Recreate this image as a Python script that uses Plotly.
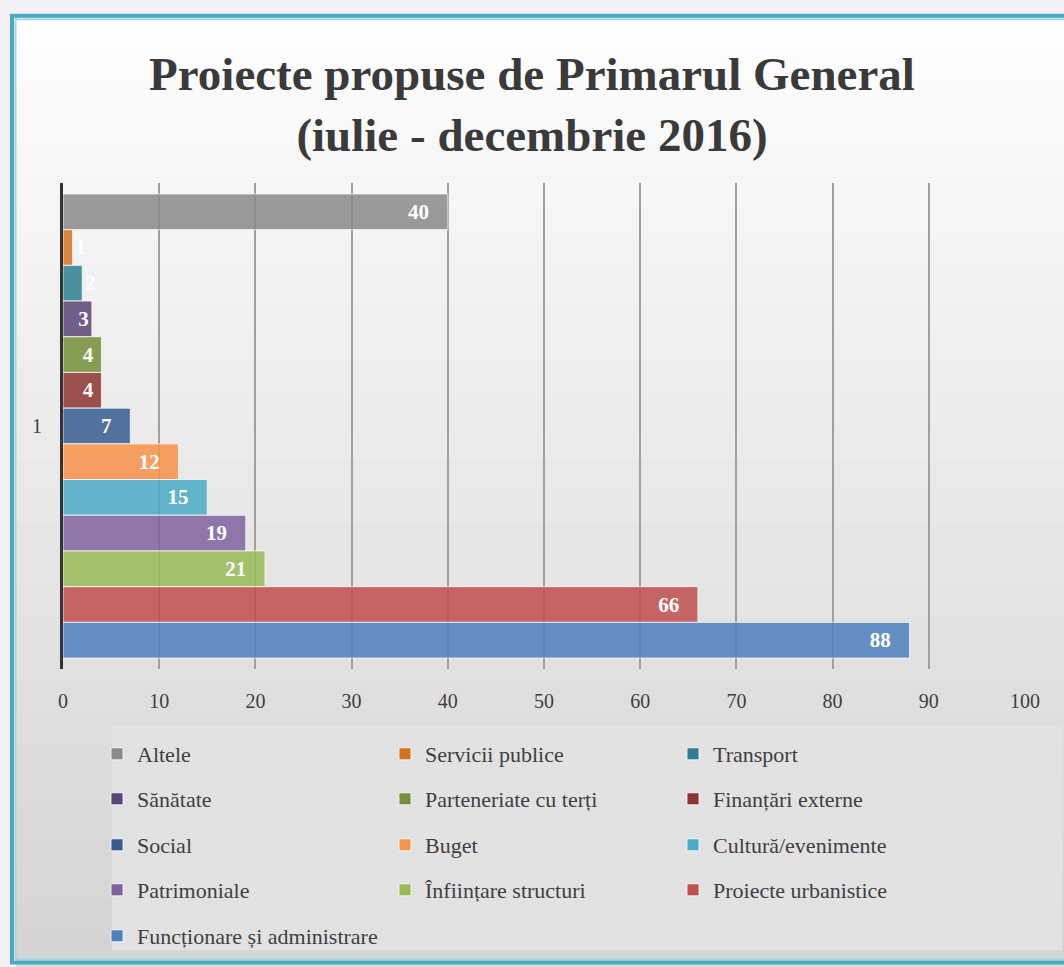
import plotly.graph_objects as go

category = ["1"]
series_names = [
    "Altele", "Servicii publice", "Transport",
    "Sănătate", "Parteneriate cu terți", "Finanțări externe",
    "Social", "Buget", "Cultură/evenimente",
    "Patrimoniale", "Înființare structuri", "Proiecte urbanistice",
    "Funcționare și administrare",
]
series_values = [40, 1, 2, 3, 4, 4, 7, 12, 15, 19, 21, 66, 88]
series_colors = [
    "#8a8a8a", "#d6721f", "#2f7f93", "#5a4577", "#74903a", "#8e3533",
    "#355d8f", "#f7934a", "#4aabc5", "#7f62a0", "#98ba56", "#c0504d",
    "#4f81bd",
]
x_ticks = [0, 10, 20, 30, 40, 50, 60, 70, 80, 90, 100]

W, H = 1064, 967
ML, MR, MT, MB = 63, 39, 183, 297
PW = W - ML - MR
PH = H - MT - MB

def px_x(p):
    return (p - ML) / PW

def px_y(p):
    return (H - MB - p) / PH

FONT = "Liberation Serif"
TXT = "#404040"

fig = go.Figure()
legend_ids = ["legend", "legend2", "legend3", "legend4", "legend5"]
for i, (name, val, col) in enumerate(zip(series_names, series_values, series_colors)):
    small = val <= 2
    if val <= 3:
        tt = "%{text}"
    elif val <= 4:
        tt = "%{text}\u00a0"
    else:
        tt = "%{text}\u00a0\u00a0\u00a0"
    lab = dict(family=FONT, size=21, color="white", weight="bold")
    fig.add_trace(go.Bar(
        y=category, x=[val], name=name, orientation="h",
        marker=dict(color=col, opacity=0.85, line=dict(color="rgba(255,255,255,0.8)", width=1)),
        text=[str(val)],
        texttemplate=tt,
        textposition="outside" if small else "inside",
        insidetextanchor="end",
        constraintext="none",
        textangle=0,
        cliponaxis=False,
        textfont=lab, outsidetextfont=lab, insidetextfont=lab,
        legend=legend_ids[i // 3],
        hoverinfo="name+x",
    ))

shapes = []
top_c = (253, 253, 253)
bot_c = (212, 212, 212)
nb = 30
y_start, y_end = 18, 967
for k in range(nb):
    t = k / (nb - 1)
    c = tuple(int(round(top_c[j] + (bot_c[j] - top_c[j]) * t)) for j in range(3))
    y0 = y_start + (y_end - y_start) * k / nb
    y1 = y_start + (y_end - y_start) * (k + 1) / nb + 1
    shapes.append(dict(type="rect", xref="paper", yref="paper", layer="below",
                       x0=px_x(16), x1=px_x(1070), y0=px_y(y0), y1=px_y(y1),
                       fillcolor="rgb(%d,%d,%d)" % c, line=dict(width=0)))
shapes.append(dict(type="rect", xref="paper", yref="paper", layer="below",
                   x0=px_x(112), x1=px_x(1062), y0=px_y(727), y1=px_y(952),
                   fillcolor="#e2e2e2", line=dict(width=0)))
shapes.append(dict(type="rect", xref="paper", yref="paper", layer="above",
                   x0=px_x(12), x1=px_x(1080), y0=px_y(15.5), y1=px_y(964),
                   fillcolor="rgba(0,0,0,0)", line=dict(color="#4aa9c2", width=4)))
shapes.append(dict(type="rect", xref="paper", yref="paper", layer="above",
                   x0=px_x(15.5), x1=px_x(1076), y0=px_y(19), y1=px_y(961),
                   fillcolor="rgba(0,0,0,0)", line=dict(color="#9fd8e6", width=2)))

row_y = [754, 799, 845, 890, 936]
legend_layouts = {}
for r, lid in enumerate(legend_ids):
    legend_layouts[lid] = dict(
        orientation="h", x=px_x(97), xanchor="left", y=px_y(row_y[r]), yanchor="middle",
        entrywidth=243, entrywidthmode="pixels", bgcolor="rgba(0,0,0,0)",
        font=dict(family=FONT, size=22, color=TXT), traceorder="normal",
        itemclick=False, itemdoubleclick=False,
    )

fig.update_layout(
    width=W, height=H,
    margin=dict(l=ML, r=MR, t=MT, b=MB, pad=0),
    paper_bgcolor="#f3f0f7",
    plot_bgcolor="rgba(0,0,0,0)",
    barmode="group", bargap=0.045, bargroupgap=0,
    showlegend=True,
    title=dict(text="Proiecte propuse de Primarul General<br>(iulie - decembrie 2016)",
               x=0.5, xanchor="center", xref="container", y=1 - 90 / H, yanchor="middle", yref="container",
               font=dict(family=FONT, size=47, color="#3a3a3a", weight="bold")),
    xaxis=dict(range=[0, 100], tickvals=x_ticks, ticktext=[str(v) for v in x_ticks],
               showgrid=True, gridcolor="#a0a0a0", gridwidth=1.5, zeroline=False,
               showline=False, ticks="", ticklabelstandoff=18,
               tickfont=dict(family=FONT, size=20, color=TXT), fixedrange=True),
    yaxis=dict(type="category", autorange="reversed", showline=True, linecolor="#333333",
               linewidth=3, showgrid=False, ticks="", ticklabelstandoff=14,
               tickfont=dict(family=FONT, size=20, color=TXT), fixedrange=True),
    shapes=shapes,
    **legend_layouts,
)

fig.write_html("out.html", config={"displayModeBar": False},
               post_script="document.body.style.margin='0';document.body.style.overflow='hidden';")
